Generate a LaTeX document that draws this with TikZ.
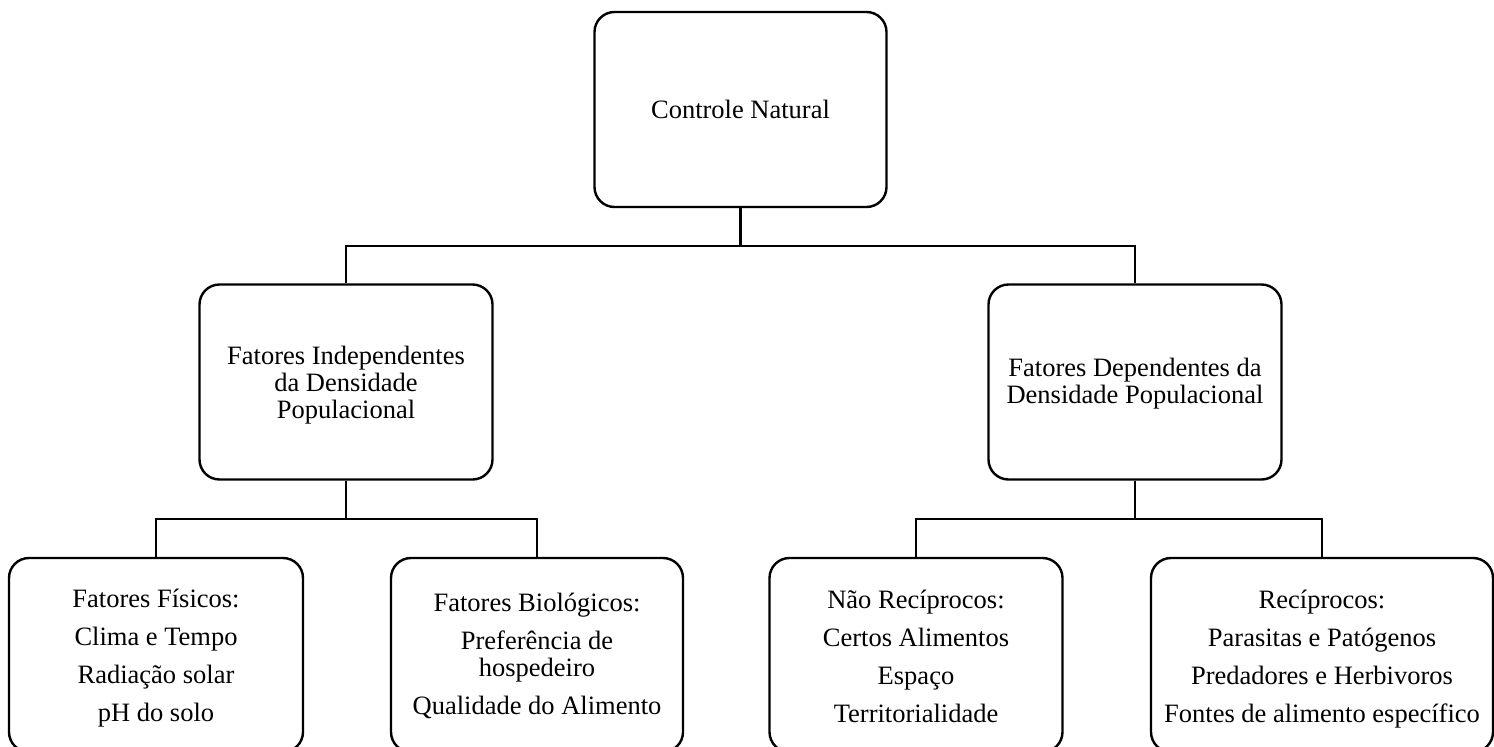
\documentclass[tikz,border=0pt]{standalone}
\usepackage{fontspec}
\setmainfont{Liberation Serif}
\begin{document}
\begin{tikzpicture}[x=1pt,y=1pt,
  box/.style={draw, line width=2.4pt, rounded corners=20pt, inner sep=0pt},
  label text/.style={align=center, inner sep=0pt, font=\fontsize{26.5}{27}\selectfont},
  link/.style={line width=2.4pt}]
\useasboundingbox (0,0) rectangle (1494,-747);
\clip (0,0) rectangle (1494,-747);
\node[box, minimum width=292pt, minimum height=195pt] (top) at (740.5,-109.5) {};
\node[box, minimum width=293pt, minimum height=195pt] (midL) at (346,-382) {};
\node[box, minimum width=293pt, minimum height=195pt] (midR) at (1135,-382) {};
\node[box, minimum width=294pt, minimum height=194pt] (b1) at (156,-655) {};
\node[box, minimum width=292pt, minimum height=194pt] (b2) at (537,-655) {};
\node[box, minimum width=293pt, minimum height=194pt] (b3) at (916,-655) {};
\node[box, minimum width=342pt, minimum height=194pt] (b4) at (1322,-655) {};
\node[label text] (ttop) at (top.center) {Controle Natural};
\node[label text, yshift=-3pt] (tmidL) at (midL.center) {Fatores Independentes\\da Densidade\\Populacional};
\node[label text, yshift=-2pt] (tmidR) at (midR.center) {Fatores Dependentes da\\Densidade Populacional};
\node[label text, yshift=-3pt] (tb1) at (b1.center) {Fatores Físicos:\\[11pt]Clima e Tempo\\[11pt]Radiação solar\\[11pt]pH do solo};
\node[label text, yshift=-1pt] (tb2) at (b2.center) {Fatores Biológicos:\\[11pt]Preferência de\\hospedeiro\\[11pt]Qualidade do Alimento};
\node[label text, yshift=-1pt] (tb3) at (b3.center) {Não Recíprocos:\\[11pt]Certos Alimentos\\[11pt]Espaço\\[11pt]Territorialidade};
\node[label text, yshift=-4pt] (tb4) at (b4.center) {Recíprocos:\\[11pt]Parasitas e Patógenos\\[11pt]Predadores e Herbivoros\\[11pt]Fontes de alimento específico};
\coordinate (bus1) at (740.5,-246);
\coordinate (bus2) at (346,-519);
\coordinate (bus3) at (1135,-519);
\draw[link] (top.south) -- (bus1);
\draw[link] (midL.north) |- (bus1) -| (midR.north);
\draw[link] (midL.south) -- (bus2);
\draw[link] (b1.north) |- (bus2) -| (b2.north);
\draw[link] (midR.south) -- (bus3);
\draw[link] (b3.north) |- (bus3) -| (b4.north);
\end{tikzpicture}
\end{document}
